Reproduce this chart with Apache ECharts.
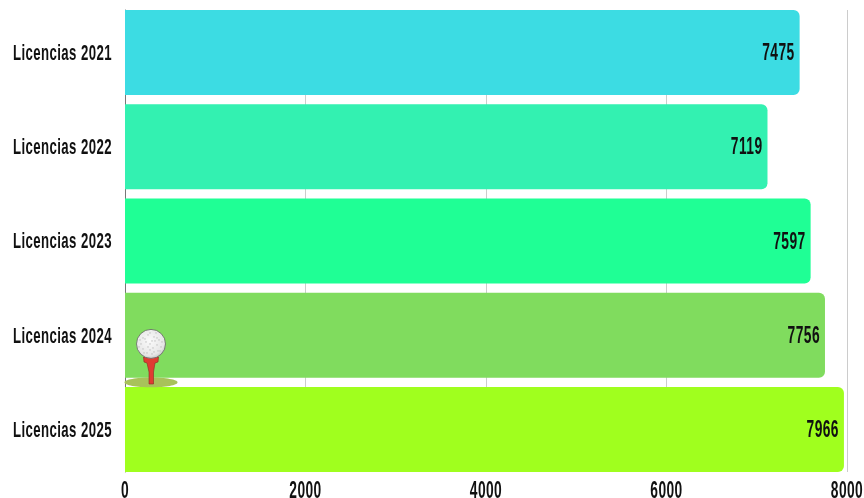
<!DOCTYPE html>
<html><head><meta charset="utf-8">
<style>html,body{margin:0;padding:0;background:#fff}#c{width:864px;height:498px}</style>
<script src="https://cdn.jsdelivr.net/npm/echarts@6/dist/echarts.min.js"></script>
</head><body><div id="c"></div>
<script>
const categories = ['Licencias 2021','Licencias 2022','Licencias 2023','Licencias 2024','Licencias 2025'];
const values = [7475,7119,7597,7756,7966];
const barColors = ['#3CDCE3','#33F1B1','#1FFF95','#80DC5E','#A0FF1E'];
const FONT = '"Liberation Sans",sans-serif';
const NARROW = 0.6, SPACING = '0.7px', DROP = 1.3;
// The reference uses a condensed display face; narrow the installed one horizontally.
(function(){
  const p = CanvasRenderingContext2D.prototype, ft = p.fillText, mt = p.measureText;
  p.fillText = function(t,x,y,m){ this.save(); this.letterSpacing = SPACING; this.translate(x,y+DROP); this.scale(NARROW,1); ft.call(this,t,0,0); this.restore(); };
  p.measureText = function(t){ const s = this.letterSpacing; this.letterSpacing = SPACING; const r = mt.call(this,t); this.letterSpacing = s; return {width:r.width*NARROW, actualBoundingBoxAscent:r.actualBoundingBoxAscent, actualBoundingBoxDescent:r.actualBoundingBoxDescent, actualBoundingBoxLeft:r.actualBoundingBoxLeft*NARROW, actualBoundingBoxRight:r.actualBoundingBoxRight*NARROW, fontBoundingBoxAscent:r.fontBoundingBoxAscent, fontBoundingBoxDescent:r.fontBoundingBoxDescent}; };
})();
const chart = echarts.init(document.getElementById('c'),null,{renderer:'canvas'});
const dots=[[-8,-6],[-3,-9],[3,-7],[8,-4],[-10,0],[-5,-2],[1,-3],[6,1],[10,3],[-8,5],[-3,3],[2,4],[7,7],[-4,9],[1,10],[-1,-11],[-11,-4],[5,-11],[11,-2],[-6,-5],[4,-3],[-1,0],[3,8],[-7,9],[9,7],[-12,3],[-1,6],[6,-6]];
chart.setOption({
  animation:false,
  grid:[
    {left:125,width:722,top:10,height:462,outerBoundsMode:'none'},
    {left:125,width:722,top:5.3,height:471.4,outerBoundsMode:'none'}
  ],
  xAxis:[
    {gridIndex:0,type:'value',min:0,max:8000,interval:2000,
     axisLine:{show:false},axisTick:{show:false},
     splitLine:{show:true,showMinLine:false,lineStyle:{color:'#cccccc',width:1}},
     axisLabel:{color:'#111',fontFamily:FONT,fontWeight:'bold',fontSize:23,margin:11,hideOverlap:false,alignMinLabel:'center',alignMaxLabel:'center',formatter:v=>String(v)}},
    {gridIndex:1,type:'value',min:0,max:8000,show:false}
  ],
  yAxis:[
    {gridIndex:0,type:'category',data:categories,inverse:true,
     axisLine:{show:true,lineStyle:{color:'#777',width:1}},axisTick:{show:false},axisLabel:{show:false}},
    {gridIndex:1,type:'category',data:categories,inverse:true,
     axisLine:{show:false},axisTick:{show:false},
     axisLabel:{color:'#111',fontFamily:FONT,fontWeight:'bold',fontSize:22,margin:13}}
  ],
  series:[{
    type:'bar',xAxisIndex:1,yAxisIndex:1,barWidth:85,
    data:values.map((v,i)=>({value:v,itemStyle:{color:barColors[i]}})),
    itemStyle:{borderRadius:[0,6,6,0]},
    label:{show:true,position:'insideRight',distance:5,color:'#111',fontFamily:FONT,fontWeight:'bold',fontSize:23}
  }],
  graphic:[
    {type:'ellipse',z:20,shape:{cx:151,cy:382.4,rx:26.5,ry:4.8},style:{fill:'#A8C25A'}},
    {type:'polygon',z:21,shape:{points:[[143.5,357],[158.5,357],[158,362],[155,363],[153.5,372],[153.5,384],[149,384],[149,372],[147,363],[144,362]]},style:{fill:'#E03C32',stroke:'#8A2A22',lineWidth:0.6}},
    {type:'circle',z:22,shape:{cx:151,cy:343.9,r:14.5},style:{fill:{type:'radial',x:0.45,y:0.4,r:0.65,colorStops:[{offset:0,color:'#fafafa'},{offset:0.75,color:'#e6e6e6'},{offset:1,color:'#bbbbbb'}]},stroke:'#555',lineWidth:0.7}},
    ...dots.map(d=>({type:'circle',z:23,shape:{cx:151+d[0],cy:343.9+d[1],r:0.7},style:{fill:'#b5b5b5'}}))
  ]
});
</script></body></html>
